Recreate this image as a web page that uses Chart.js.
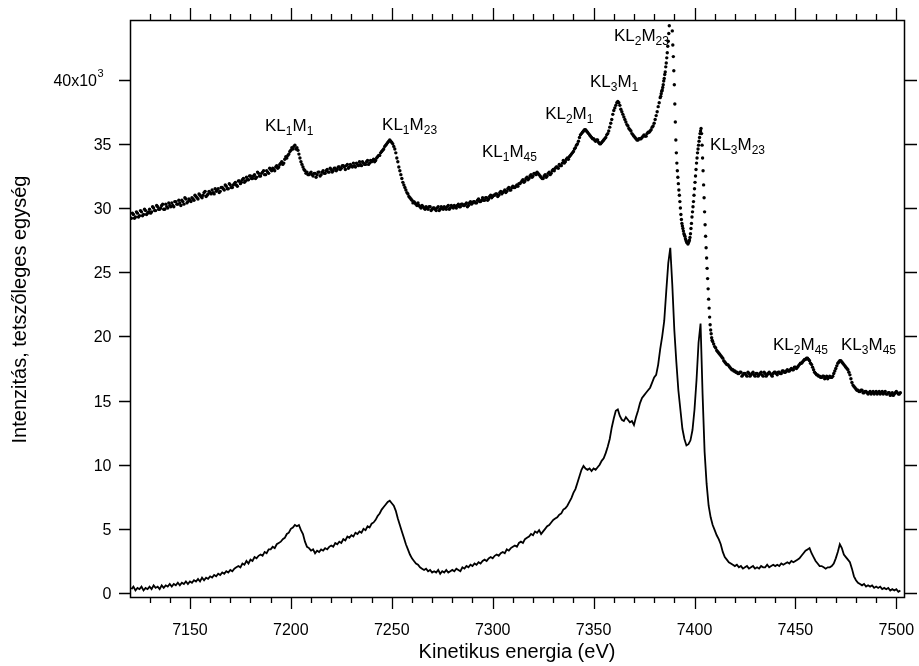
<!DOCTYPE html>
<html><head><meta charset="utf-8">
<script src="https://cdn.jsdelivr.net/npm/chart.js@4.4.1/dist/chart.umd.min.js"></script>
<style>html,body{margin:0;padding:0;background:#fff}</style>
</head><body>
<canvas id="c" width="919" height="666"></canvas>
<script>
// ---------- DATA (intensity in units of 10^3) ----------
// Upper (dotted) spectrum, 1 eV grid from 7121 to 7383 eV
const upperLowStartE = 7121;
const upperLowSide = [
29.2,29.5,29.3,29.6,29.4,29.7,29.5,29.8,29.6,29.9,
29.7,30.0,29.8,30.1,29.9,30.2,29.9,30.3,30.0,30.2,
30.4,30.1,30.5,30.3,30.4,30.6,30.3,30.7,30.5,30.6,
30.8,30.6,30.9,30.7,31.0,30.8,31.2,30.9,31.1,31.2,
31.4,31.1,31.3,31.5,31.3,31.6,31.4,31.7,31.5,31.8,
31.6,31.9,31.8,32.1,31.9,32.2,32.0,32.4,32.2,32.5,
32.3,32.6,32.4,32.7,32.5,32.8,32.6,32.9,32.7,33.0,
33.1,32.9,33.3,33.2,33.5,33.4,33.8,33.9,34.2,34.5,
34.6,34.9,34.7,34.2,33.6,33.2,32.9,32.8,32.6,32.8,
32.5,32.7,32.6,32.8,32.6,32.9,32.7,33.0,32.8,33.0,
32.9,33.1,33.0,33.2,33.1,33.3,33.0,33.4,33.2,33.3,
33.5,33.2,33.4,33.6,33.3,33.5,33.4,33.7,33.5,33.6,
33.8,33.7,34.0,34.1,34.4,34.6,34.9,35.1,35.3,35.1,
34.8,34.3,33.6,32.9,32.3,31.8,31.4,31.1,30.8,30.6,
30.5,30.3,30.4,30.1,30.2,30.0,30.1,29.9,30.1,29.9,
30.0,29.8,30.1,29.9,30.0,30.1,29.9,30.2,30.0,30.1,
30.2,30.0,30.3,30.1,30.3,30.2,30.4,30.2,30.5,30.4,
30.5,30.4,30.7,30.5,30.8,30.6,30.8,30.7,31.0,30.9,
31.0,31.1,31.0,31.3,31.2,31.4,31.3,31.6,31.4,31.7,
31.6,31.8,31.9,32.0,32.2,32.1,32.4,32.3,32.6,32.5,
32.7,32.8,32.6,32.4,32.3,32.6,32.5,32.8,32.7,33.0,
33.1,33.2,33.4,33.3,33.7,33.6,33.9,34.0,34.2,34.4,
34.7,35.0,35.5,35.8,36.0,36.1,35.9,35.7,35.5,35.4,
35.2,35.3,35.0,35.1,35.3,35.5,35.8,36.3,36.9,37.6,
38.0,38.3,38.0,37.5,37.1,36.7,36.4,36.1,35.8,35.6,
35.4,35.3,35.4,35.5,35.7,35.6,35.9,36.0,36.3,36.6,
37.2,37.9,38.6
];
// Upper spectrum, readings at the half-eV positions 7121.5 ... 7382.5 eV
const upperLowHalfStartE = 7121.5;
const upperLowSideHalf = [
29.6,29.2,29.7,29.3,29.8,29.4,29.9,29.5,29.7,29.6,
30.1,29.8,30.2,29.9,30.0,30.3,29.9,30.1,30.4,30.1,
30.2,30.5,30.3,30.6,30.2,30.5,30.8,30.4,30.7,30.5,
30.7,31.0,30.8,31.1,30.9,31.0,31.3,31.0,31.3,31.1,
31.2,31.5,31.4,31.2,31.6,31.5,31.8,31.5,31.9,31.6,
31.8,32.0,31.7,32.1,32.0,32.3,32.1,32.2,32.5,32.3,
32.5,32.3,32.8,32.5,32.7,32.9,32.6,32.8,33.1,32.9,
33.0,33.2,33.1,33.4,33.6,33.5,34.0,34.1,34.4,34.7,
34.8,34.6,34.5,33.9,33.4,33.0,32.7,32.6,32.7,32.6,
32.7,32.4,32.8,32.5,32.8,32.7,32.9,32.8,33.1,32.8,
33.1,32.9,33.2,33.0,33.3,33.2,33.3,33.1,33.4,33.2,
33.3,33.5,33.3,33.4,33.6,33.4,33.6,33.4,33.7,33.7,
33.6,33.9,34.1,34.3,34.5,34.8,35.0,35.2,35.2,35.0,
34.6,33.9,33.2,32.6,32.0,31.6,31.2,30.9,30.7,30.4,
30.4,30.2,30.2,30.0,30.1,29.9,30.0,30.1,29.8,30.0,
29.9,30.0,29.8,30.1,29.9,30.0,30.1,29.9,30.2,30.0,
30.1,30.2,30.1,30.3,30.2,30.3,30.1,30.4,30.3,30.5,
30.4,30.6,30.5,30.6,30.6,30.8,30.6,30.9,30.8,31.0,
31.1,30.9,31.2,31.1,31.3,31.2,31.5,31.4,31.6,31.6,
31.7,31.7,31.9,32.1,32.0,32.3,32.2,32.5,32.4,32.7,
32.6,32.7,32.5,32.3,32.5,32.4,32.7,32.6,32.9,32.9,
33.2,33.1,33.3,33.5,33.5,33.8,33.8,34.1,34.3,34.6,
34.9,35.2,35.7,35.9,36.1,36.0,35.8,35.6,35.4,35.3,
35.3,35.1,35.0,35.2,35.4,35.7,36.0,36.6,37.3,37.8,
38.2,38.2,37.7,37.3,36.9,36.5,36.2,36.0,35.7,35.5,
35.3,35.4,35.4,35.6,35.6,35.8,35.9,36.1,36.4,36.9,
37.5,38.2
];
// Upper spectrum, fine 0.25 eV sampling across KL2M23 / KL3M23
const upperPeakE = [
7383.25,7383.50,7383.75,
7384.00,7384.25,7384.50,7384.75,7385.00,7385.25,7385.50,7385.75,7386.00,7386.25,
7386.50,7386.75,7387.00,7387.25,7387.50,7387.75,7388.00,7388.25,7388.50,7388.75,
7389.00,7389.25,7389.50,7389.75,7390.00,7390.25,7390.50,7390.75,7391.00,7391.25,
7391.50,7391.75,7392.00,7392.25,7392.50,7392.75,7393.00,7393.25,7393.50,7393.75,
7394.00,7394.25,7394.50,7394.75,7395.00,7395.25,7395.50,7395.75,7396.00,7396.25,
7396.50,7396.75,7397.00,7397.25,7397.50,7397.75,7398.00,7398.25,7398.50,7398.75,
7399.00,7399.25,7399.50,7399.75,7400.00,7400.25,7400.50,7400.75,7401.00,7401.25,
7401.50,7401.75,7402.00,7402.25,7402.50,7402.75,7403.00,7403.25,7403.50,7403.75,
7404.00,7404.25,7404.50,7404.75,7405.00,7405.25,7405.50,7405.75,7406.00,7406.25,
7406.50,7406.75,7407.00,7407.25,7407.50,7407.75,7408.00,7408.25,7408.50,7408.75,
7409.00,7409.50,7410.00,7410.50,7411.00,7411.50
];
const upperPeakI = [
38.7,38.9,39.1,
39.2,39.4,39.6,39.9,40.1,40.4,40.6,41.0,41.3,41.7,
42.1,42.6,43.0,43.6,44.2,45.0,45.8,46.3,46.0,45.0,
43.8,42.7,41.8,40.7,39.6,38.1,36.7,35.3,34.3,33.5,
32.9,32.4,31.9,31.4,31.0,30.5,30.0,29.5,29.1,28.8,
28.6,28.4,28.2,28.0,27.9,27.8,27.6,27.5,27.4,27.3,
27.3,27.2,27.3,27.4,27.5,27.7,28.0,28.4,28.8,29.3,
29.7,30.1,30.5,31.0,31.5,32.0,32.5,33.0,33.5,33.9,
34.3,34.6,34.9,35.2,35.5,35.8,36.0,36.2,35.8,34.9,
33.9,32.9,31.8,30.8,29.7,28.7,27.8,26.9,26.1,25.3,
24.5,23.7,22.9,22.2,21.5,20.9,20.5,20.2,19.9,19.7,
19.6,19.4,19.2,19.1,18.9,18.8
];
// Upper spectrum, 1 eV grid from 7412 to 7502 eV
const upperHighStartE = 7412;
const upperHighSide = [
18.7,18.5,18.3,18.0,17.8,17.7,17.5,17.4,17.3,17.2,
17.1,17.2,17.0,17.1,16.9,17.1,17.0,17.2,16.9,17.1,
17.0,17.2,16.9,17.1,17.0,17.2,17.0,17.1,17.2,17.0,
17.2,17.1,17.3,17.2,17.4,17.3,17.5,17.4,17.6,17.6,
17.8,17.9,18.1,18.2,18.3,18.1,17.8,17.4,17.1,17.0,
16.9,16.8,16.9,16.8,16.7,16.9,16.8,17.1,17.5,17.9,
18.1,18.0,17.8,17.6,17.4,17.0,16.4,16.1,15.9,15.8,
15.7,15.8,15.6,15.7,15.5,15.7,15.6,15.5,15.7,15.6,
15.5,15.7,15.6,15.5,15.6,15.4,15.6,15.5,15.7,15.5,15.6
];
// Upper spectrum, readings at the half-eV positions 7412.5 ... 7501.5 eV
const upperHighHalfStartE = 7412.5;
const upperHighSideHalf = [
18.6,18.4,18.1,17.9,17.8,17.6,17.4,17.3,17.2,17.1,
17.2,16.9,17.1,17.0,17.2,16.9,17.1,17.0,17.1,16.9,
17.1,17.0,17.2,16.9,17.1,17.1,16.9,17.2,17.1,17.2,
17.1,17.3,17.2,17.3,17.3,17.4,17.4,17.6,17.5,17.7,
17.9,18.0,18.2,18.3,18.2,17.9,17.6,17.2,17.0,16.9,
16.8,16.9,16.7,16.9,16.8,16.8,16.9,17.3,17.7,18.0,
18.1,17.9,17.7,17.5,17.2,16.7,16.2,16.0,15.8,15.7,
15.8,15.6,15.7,15.6,15.6,15.5,15.7,15.6,15.5,15.7,
15.6,15.5,15.7,15.5,15.6,15.5,15.4,15.6,15.6,15.5
];
// Lower (line) spectrum, 1 eV grid from 7121 to 7502 eV
const lowerStartE = 7121;
const lowerI = [
0.3,0.5,0.2,0.4,0.3,0.5,0.2,0.4,0.3,0.5,
0.3,0.6,0.4,0.5,0.3,0.6,0.4,0.6,0.5,0.7,
0.5,0.7,0.6,0.8,0.6,0.8,0.7,0.9,0.7,0.9,
0.8,1.0,0.9,1.1,0.9,1.2,1.0,1.2,1.1,1.3,
1.2,1.4,1.3,1.5,1.4,1.6,1.5,1.7,1.6,1.8,
1.7,1.9,2.0,2.1,2.0,2.3,2.2,2.5,2.3,2.6,
2.5,2.8,2.7,2.9,3.0,2.9,3.2,3.1,3.4,3.4,
3.6,3.5,3.8,3.9,4.0,4.2,4.3,4.6,4.7,5.0,
5.1,5.3,5.2,5.3,4.9,4.6,4.0,3.6,3.5,3.3,
3.4,3.1,3.3,3.2,3.4,3.3,3.5,3.4,3.6,3.7,
3.6,3.9,3.8,4.0,3.9,4.2,4.1,4.4,4.3,4.5,
4.4,4.7,4.6,4.8,4.7,5.0,4.9,5.2,5.1,5.4,
5.5,5.7,6.0,6.2,6.5,6.7,6.9,7.1,7.2,7.0,
6.8,6.4,5.8,5.3,4.8,4.3,3.8,3.4,3.0,2.7,
2.5,2.3,2.2,2.0,1.9,1.8,1.9,1.7,1.8,1.6,
1.7,1.6,1.8,1.5,1.7,1.6,1.8,1.6,1.7,1.8,
1.7,1.9,1.8,1.7,2.0,1.9,2.1,2.0,2.2,2.1,
2.3,2.2,2.4,2.3,2.5,2.6,2.5,2.7,2.8,2.7,
2.9,3.0,2.9,3.1,3.2,3.1,3.4,3.3,3.5,3.6,
3.7,3.6,3.9,4.0,3.9,4.2,4.3,4.4,4.6,4.5,
4.8,4.7,4.9,4.6,4.8,5.0,5.2,5.3,5.5,5.7,
5.8,5.9,6.1,6.2,6.5,6.6,6.8,7.1,7.4,7.8,
8.1,8.6,9.1,9.6,9.9,9.7,9.6,9.7,9.5,9.7,
9.6,9.8,10.0,10.3,10.5,10.9,11.4,12.0,12.9,13.6,
14.2,14.3,13.8,13.5,13.4,13.7,13.5,13.3,13.4,13.1,
13.7,14.2,14.8,15.2,15.4,15.6,15.8,16.0,16.4,16.8,
17.0,17.8,19.0,20.0,21.2,23.5,25.7,26.9,24.0,20.5,
18.0,15.8,14.3,12.8,12.0,11.5,11.6,11.9,12.7,14.3,
16.6,19.5,21.0,15.5,11.0,8.5,6.8,5.9,5.3,4.9,
4.5,4.2,3.8,3.2,2.8,2.6,2.4,2.3,2.2,2.1,
2.2,2.0,2.1,1.9,2.0,2.1,1.9,2.0,2.1,1.9,
2.0,1.9,2.1,2.0,2.0,2.2,2.0,2.1,2.2,2.1,
2.2,2.1,2.3,2.2,2.3,2.4,2.3,2.5,2.4,2.5,
2.6,2.7,2.9,3.1,3.3,3.4,3.5,3.1,2.8,2.5,
2.3,2.1,2.1,2.0,1.9,2.0,2.0,2.1,2.3,2.7,
3.2,3.8,3.5,3.0,2.8,2.6,2.4,1.9,1.3,1.0,
0.8,0.7,0.6,0.7,0.5,0.6,0.5,0.6,0.4,0.5,
0.4,0.5,0.3,0.4,0.3,0.4,0.2,0.3,0.2,0.3,0.1,0.2
];
// Axis ticks and their labels
const xTickValues = [7150,7200,7250,7300,7350,7400,7450,7500];
const xTickText = ['7150','7200','7250','7300','7350','7400','7450','7500'];
const yTickValues = [0,5,10,15,20,25,30,35,40];
const yTickText = ['0','5','10','15','20','25','30','35','40x10'];
const yTickExp  = ['','','','','','','','','3'];
// Peak labels: KL{sub}M{sub}, anchored at (energy, intensity) of left edge / baseline
const peakLabelL = ['1','1','1','2','3','2','3','2','3'];
const peakLabelM = ['1','23','45','1','1','23','23','45','45'];
const peakLabelE = [7187.2,7245.2,7294.7,7326.0,7348.2,7360.1,7407.7,7438.9,7472.6];
const peakLabelI = [36.0,36.1,34.0,36.9,39.4,43.0,34.5,18.9,18.9];
const xTitle = 'Kinetikus energia (eV)';
const yTitle = 'Intenzitás, tetszőleges egység';

// ---------- BUILD ----------
const FONT = "'Liberation Sans', Arial, sans-serif";
const upperPts = [];
upperLowSide.forEach((v,i)=>upperPts.push({x:upperLowStartE+i, y:v}));
upperLowSideHalf.forEach((v,i)=>upperPts.push({x:upperLowHalfStartE+i, y:v}));
upperPeakE.forEach((e,i)=>upperPts.push({x:e, y:upperPeakI[i]}));
upperHighSide.forEach((v,i)=>upperPts.push({x:upperHighStartE+i, y:v}));
upperHighSideHalf.forEach((v,i)=>upperPts.push({x:upperHighHalfStartE+i, y:v}));
const lowerPts = lowerI.map((v,i)=>({x:lowerStartE+i, y:v}));

const X_MIN = 7120.3, X_MAX = 7503.8, Y_MIN = -0.31, Y_MAX = 44.65;

const decor = {
  id:'decor',
  afterDraw(chart){
    const {ctx, chartArea:a, scales:{x,y}} = chart;
    ctx.save();
    ctx.strokeStyle = '#000';
    ctx.lineWidth = 1.3;
    ctx.beginPath();
    for (let v = 7130; v <= 7500; v += 10) {
      const px = Math.round(x.getPixelForValue(v)) + 0.5;
      const len = (v % 50 === 0) ? 12 : 6;
      ctx.moveTo(px, a.bottom); ctx.lineTo(px, a.bottom + len);
      ctx.moveTo(px, a.top); ctx.lineTo(px, a.top - len);
    }
    yTickValues.forEach(v => {
      const py = Math.round(y.getPixelForValue(v)) + 0.5;
      ctx.moveTo(a.left - 11, py); ctx.lineTo(a.left, py);
      ctx.moveTo(a.right, py); ctx.lineTo(a.right + 13, py);
    });
    ctx.stroke();
    ctx.lineWidth = 1.5;
    ctx.strokeRect(Math.round(a.left)+0.5, Math.round(a.top)+0.5, Math.round(a.right-a.left), Math.round(a.bottom-a.top));

    ctx.fillStyle = '#000';
    // tick labels
    ctx.font = '16px ' + FONT;
    ctx.textBaseline = 'alphabetic';
    ctx.textAlign = 'center';
    xTickValues.forEach((v,i) => ctx.fillText(xTickText[i], x.getPixelForValue(v), a.bottom + 38));
    yTickValues.forEach((v,i) => {
      const py = y.getPixelForValue(v);
      ctx.font = '16px ' + FONT;
      ctx.textAlign = 'right';
      if (yTickExp[i]) {
        ctx.fillText(yTickText[i], a.left - 33, py + 6);
        ctx.font = '11px ' + FONT;
        ctx.textAlign = 'left';
        ctx.fillText(yTickExp[i], a.left - 32.5, py - 3);
      } else {
        ctx.fillText(yTickText[i], a.left - 18.5, py + 6);
      }
    });

    // axis titles
    ctx.font = '20px ' + FONT;
    ctx.textAlign = 'center';
    ctx.fillText(xTitle, (a.left + a.right)/2, a.bottom + 61);
    ctx.save();
    ctx.translate(a.left - 104, (a.top + a.bottom)/2 + 1);
    ctx.rotate(-Math.PI/2);
    ctx.fillText(yTitle, 0, 0);
    ctx.restore();

    // peak labels
    ctx.textAlign = 'left';
    peakLabelE.forEach((e,i) => {
      let px = x.getPixelForValue(e);
      const py = y.getPixelForValue(peakLabelI[i]);
      const parts = [['KL',0],[peakLabelL[i],1],['M',0],[peakLabelM[i],1]];
      parts.forEach(([t,sub]) => {
        ctx.font = (sub ? '12px ' : '17px ') + FONT;
        ctx.fillText(t, px, py + (sub ? 4 : 0));
        px += ctx.measureText(t).width;
      });
    });
    ctx.restore();
  }
};

const hiddenTicks = { display:false };
new Chart(document.getElementById('c'), {
  data: {
    datasets: [
      { type:'scatter', data: upperPts, showLine:false, pointRadius:1.7, pointBorderWidth:0,
        pointBackgroundColor:'#000', pointBorderColor:'#000', xAxisID:'x', yAxisID:'y' },
      { type:'line', data: lowerPts, borderColor:'#000', borderWidth:1.8, pointRadius:0,
        tension:0, fill:false, xAxisID:'x', yAxisID:'y' }
    ]
  },
  options: {
    responsive:false, animation:false, devicePixelRatio:1,
    layout:{ padding:0 },
    plugins:{ legend:{display:false}, tooltip:{enabled:false} },
    scales:{
      x:{ type:'linear', position:'bottom', min:X_MIN, max:X_MAX,
          afterFit: s => { s.height = 69; s.paddingLeft = 0; s.paddingRight = 0; },
          grid:{display:false, drawTicks:false}, border:{display:false}, ticks:hiddenTicks },
      x2:{ type:'linear', position:'top', min:X_MIN, max:X_MAX,
           afterFit: s => { s.height = 20; s.paddingLeft = 0; s.paddingRight = 0; },
           grid:{display:false, drawTicks:false}, border:{display:false}, ticks:hiddenTicks },
      y:{ type:'linear', position:'left', min:Y_MIN, max:Y_MAX,
          afterFit: s => { s.width = 130; s.paddingTop = 0; s.paddingBottom = 0; },
          grid:{display:false, drawTicks:false}, border:{display:false}, ticks:hiddenTicks },
      y2:{ type:'linear', position:'right', min:Y_MIN, max:Y_MAX,
           afterFit: s => { s.width = 15; s.paddingTop = 0; s.paddingBottom = 0; },
           grid:{display:false, drawTicks:false}, border:{display:false}, ticks:hiddenTicks }
    }
  },
  plugins:[decor]
});
</script>
</body></html>
